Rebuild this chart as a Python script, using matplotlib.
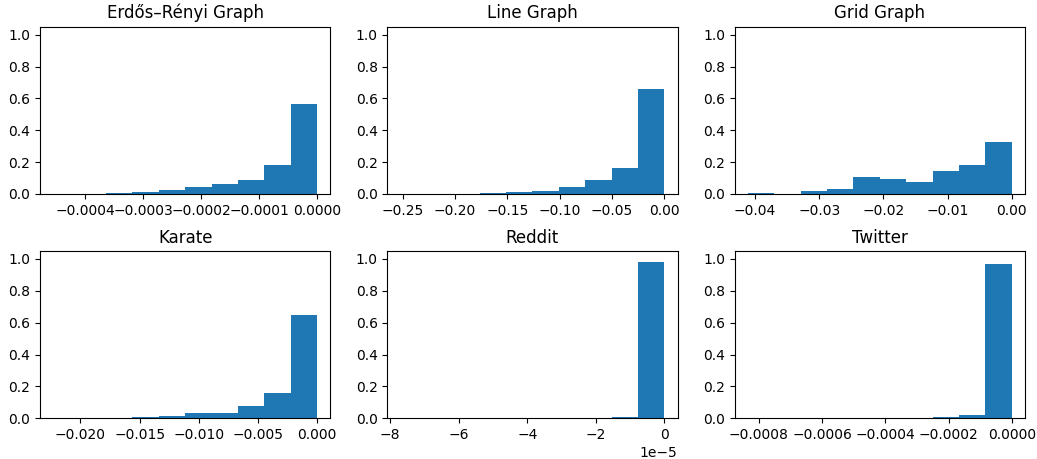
import numpy as np
import matplotlib
matplotlib.use("Agg")
import matplotlib.pyplot as plt

titles = ["Erdős–Rényi Graph", "Line Graph", "Grid Graph", "Karate", "Reddit", "Twitter"]

# minimum value of each distribution (bins span [min, 0] in 10 equal bins)
mins = [-0.000455, -0.252, -0.0411, -0.0223, -7.7e-5, -0.000835]

# fraction of entries in each of the 10 bins (left to right)
er_heights      = [0.002, 0.003, 0.008, 0.013, 0.025, 0.042, 0.063, 0.090, 0.180, 0.566]
line_heights    = [0.0005, 0.0, 0.001, 0.004, 0.010, 0.021, 0.046, 0.086, 0.166, 0.656]
grid_heights    = [0.006, 0.001, 0.019, 0.031, 0.105, 0.096, 0.078, 0.147, 0.182, 0.329]
karate_heights  = [0.004, 0.004, 0.002, 0.008, 0.013, 0.033, 0.033, 0.079, 0.159, 0.649]
reddit_heights  = [0.0005, 0.0, 0.0, 0.0, 0.0005, 0.003, 0.0005, 0.0, 0.005, 0.983]
twitter_heights = [0.0, 0.0, 0.0, 0.0, 0.0, 0.0, 0.0, 0.006, 0.019, 0.967]

heights = [er_heights, line_heights, grid_heights, karate_heights, reddit_heights, twitter_heights]

fig, axes = plt.subplots(2, 3, figsize=(10.37, 4.59), dpi=100)
fig.subplots_adjust(left=0.0386, right=0.9884, top=0.9418, bottom=0.0887,
                    wspace=0.1966, hspace=0.341)

for ax, title, mn, h in zip(axes.flat, titles, mins, heights):
    edges = np.linspace(mn, 0.0, 11)
    centers = (edges[:-1] + edges[1:]) / 2
    ax.hist(centers, bins=edges, weights=h, color="#1f77b4")
    ax.set_ylim(0, 1.05)
    ax.set_title(title, fontsize=12)
    ax.tick_params(labelsize=10)

fig.savefig("out.png", dpi=100)
